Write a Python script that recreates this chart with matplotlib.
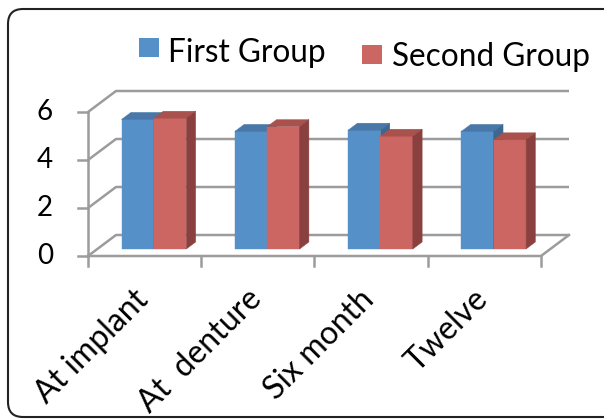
import numpy as np
import matplotlib
matplotlib.use("Agg")
import matplotlib.pyplot as plt
import matplotlib.patches as mpatches
import matplotlib.transforms as mtransforms

plt.rcParams['font.family'] = ['Lato', 'DejaVu Sans']

categories = ["At implant", "At  denture", "Six month", "Twelve"]
series_names = ["First Group", "Second Group"]
first_group = [5.4, 4.9, 4.95, 4.9]
second_group = [5.45, 5.1, 4.7, 4.55]
y_ticks = [0, 2, 4, 6]

front_colors = ["#5590c9", "#cb6662"]
top_colors = ["#4877a8", "#a8514d"]
side_colors = ["#3d6690", "#8a403e"]
grid_color = "#9c9c9c"

W, H = 604, 419
fig = plt.figure(figsize=(W / 100, H / 100), dpi=100)
ax = fig.add_axes([0, 0, 1, 1])

# plot area: front plane spans 4 categories, 0..6 on the value axis
x_org, px_per_cat = 88, 113.25
y_org, px_per_unit = 256, 24.0
ax.set_xlim(-x_org / px_per_cat, (W - x_org) / px_per_cat)
ax.set_ylim(-(H - y_org) / px_per_unit, y_org / px_per_unit)
ax.axis("off")

# depth of the 3d box, in data units
DX = 28 / px_per_cat
DY = 21 / px_per_unit
n = len(categories)

# back wall gridlines and left wall diagonals
for v in y_ticks:
    ax.plot([0, DX, n + DX], [v, v + DY, v + DY], color=grid_color, lw=1.8,
            solid_capstyle="butt", zorder=1)
    ax.plot([-10 / px_per_cat, 0], [v, v], color=grid_color, lw=1.8, zorder=1)
    ax.text(-35 / px_per_cat, v, str(v), ha="right", va="center", fontsize=20)
ax.plot([0, 0], [0, y_ticks[-1]], color=grid_color, lw=1.8, zorder=1)

# floor outline and category ticks
ax.plot([0, n, n + DX], [0, 0, DY], color=grid_color, lw=1.8, zorder=1)
for i in range(n + 1):
    ax.plot([i, i], [0, -10 / px_per_unit], color=grid_color, lw=1.8, zorder=1)

# bars sit in the middle third of the depth
gap = 1.5
bw = 1 / (2 + gap)
d0, d1 = 1 / 3, 2 / 3
ox0, oy0 = d0 * DX, d0 * DY
ox1, oy1 = d1 * DX, d1 * DY

z = 3
for i in range(n):
    for s, vals in enumerate([first_group, second_group]):
        h = vals[i]
        xl = i + gap / 2 * bw + s * bw + ox0
        xr = xl + bw
        ax.bar(xl, h, width=bw, bottom=oy0, align="edge", color=front_colors[s],
               edgecolor=front_colors[s], lw=0.3, zorder=z)
        top = [(xl, h + oy0), (xr, h + oy0), (xr + ox1 - ox0, h + oy1), (xl + ox1 - ox0, h + oy1)]
        side = [(xr, oy0), (xr + ox1 - ox0, oy1), (xr + ox1 - ox0, h + oy1), (xr, h + oy0)]
        ax.add_patch(mpatches.Polygon(top, closed=True, fc=top_colors[s], ec=top_colors[s],
                                      lw=0.3, zorder=z))
        ax.add_patch(mpatches.Polygon(side, closed=True, fc=side_colors[s], ec=side_colors[s],
                                      lw=0.3, zorder=z))
        z += 1

# rotated category labels
for i, name in enumerate(categories):
    ax.text(i + 0.5 - 12 / px_per_cat, -28 / px_per_unit, name, rotation=45,
            rotation_mode="anchor", ha="right", va="top", fontsize=23)

# legend entries, placed in pixels from the top-left
legend_pos = [(139, 38, 168, 62), (362, 45, 392, 66)]
for (sx, sy, tx, ty), name, c in zip(legend_pos, series_names, front_colors):
    fig.patches.append(mpatches.Rectangle((sx / W, 1 - (sy + 19) / H), 20 / W, 19 / H,
                                          transform=fig.transFigure, fc=c, ec="none"))
    fig.text(tx / W, 1 - ty / H, name, ha="left", va="baseline", fontsize=22.7)

# rounded frame around the chart
frame = mpatches.FancyBboxPatch((8, 2), 640, H - 11, boxstyle="round,pad=0,rounding_size=15",
                                transform=mtransforms.IdentityTransform(),
                                fc="none", ec="#222222", lw=1.5)
fig.patches.append(frame)

fig.savefig("out.png", dpi=100)
